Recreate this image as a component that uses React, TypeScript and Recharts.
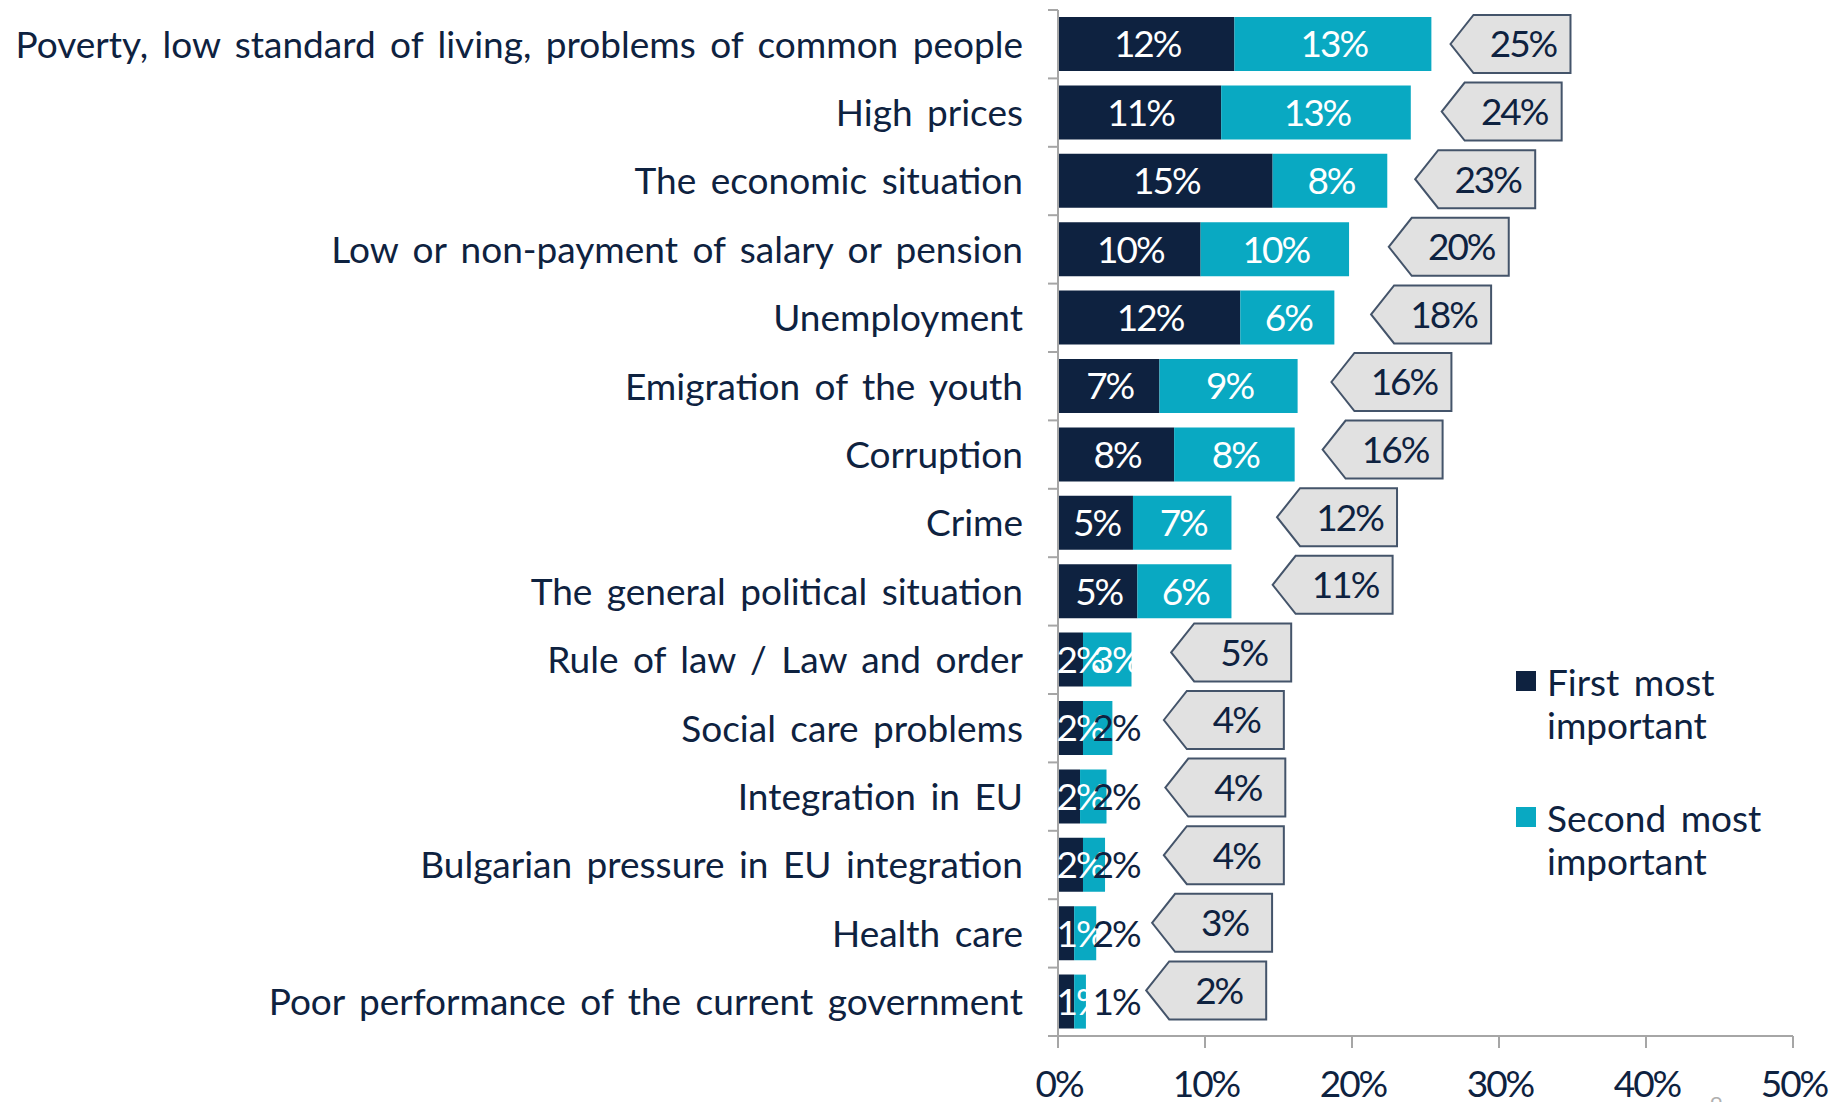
import React from 'react'
import { BarChart, Bar, XAxis, YAxis, LabelList, Legend } from 'recharts'

const CATEGORIES = [
  'Poverty, low standard of living, problems of common people',
  'High prices',
  'The economic situation',
  'Low or non-payment of salary or pension',
  'Unemployment',
  'Emigration of the youth',
  'Corruption',
  'Crime',
  'The general political situation',
  'Rule of law / Law and order',
  'Social care problems',
  'Integration in EU',
  'Bulgarian pressure in EU integration',
  'Health care',
  'Poor performance of the current government',
]

// first / second most important, in %
const FIRST = [12.0, 11.1, 14.6, 9.7, 12.4, 6.9, 7.9, 5.1, 5.4, 1.7, 1.7, 1.5, 1.7, 1.1, 1.1]
const SECOND = [13.4, 12.9, 7.8, 10.1, 6.4, 9.4, 8.2, 6.7, 6.4, 3.3, 2.0, 1.8, 1.5, 1.5, 0.8]
const TOTALS = [25, 24, 23, 20, 18, 16, 16, 12, 11, 5, 4, 4, 4, 3, 2]
// where the tip of each total callout sits on the % axis
const CALLOUT_AT = [26.7, 26.1, 24.3, 22.5, 21.3, 18.6, 18.0, 14.9, 14.6, 7.7, 7.2, 7.3, 7.2, 6.4, 6.0]
const X_TICKS = [0, 10, 20, 30, 40, 50]

const NAVY = '#0e2240'
const TEAL = '#09a9c2'
const GREY = '#a6a6a6'
const BOX_FILL = '#e1e1e1'
const BOX_STROKE = '#44546a'
const FONT = 'Lato, "Open Sans", sans-serif'
const FS = 37
const NUM_SPACING = -2

const W = 1831
const H = 1102
const PLOT_LEFT = 1058
const PLOT_TOP = 10
const PLOT_BOTTOM = 1036
const BAND = (PLOT_BOTTOM - PLOT_TOP) / CATEGORIES.length

const rows = CATEGORIES.map((name, i) => ({
  name,
  first: FIRST[i],
  second: SECOND[i],
  gap: CALLOUT_AT[i] - FIRST[i] - SECOND[i],
  total: TOTALS[i],
}))

function CategoryTick({ x, y, payload, index }: any) {
  const last = index === CATEGORIES.length - 1
  return (
    <g>
      <line x1={x - 10} x2={x} y1={y - BAND / 2} y2={y - BAND / 2} stroke={GREY} strokeWidth={2} />
      {last && <line x1={x - 10} x2={x} y1={y + BAND / 2} y2={y + BAND / 2} stroke={GREY} strokeWidth={2} />}
      <text
        x={x - 35}
        y={y + FS * 0.36}
        textAnchor="end"
        fill={NAVY}
        fontSize={FS}
        fontFamily={FONT}
        style={{ wordSpacing: 5 }}
      >
        {payload.value}
      </text>
    </g>
  )
}

function NumText({ x, y, color, children }: any) {
  return (
    <text
      x={x - NUM_SPACING / 2}
      y={y}
      textAnchor="middle"
      fill={color}
      fontSize={FS}
      fontFamily={FONT}
      letterSpacing={NUM_SPACING}
    >
      {children}
    </text>
  )
}

function segLabel(kind: 'first' | 'second') {
  return (p: any) => {
    const { x, y, width, height, value } = p
    const v = Math.round(value)
    let cx = x + width / 2
    let color = '#ffffff'
    if (kind === 'first') cx = Math.max(cx, PLOT_LEFT + 21)
    else {
      cx = Math.max(cx, PLOT_LEFT + 57)
      if (v <= 2) color = NAVY
    }
    return (
      <NumText x={cx} y={y + height / 2 + FS * 0.36} color={color}>
        {`${v}%`}
      </NumText>
    )
  }
}

function Callout(props: any) {
  const { x, y, width, height, payload, index } = props
  const tip = x + width
  const cy = y + height / 2 - index * 0.8
  const h = 58
  const point = 23
  const bw = 120
  const top = cy - h / 2
  const bot = cy + h / 2
  const d = `M${tip},${cy} L${tip + point},${top} L${tip + bw},${top} L${tip + bw},${bot} L${tip + point},${bot} Z`
  return (
    <g>
      <path d={d} fill={BOX_FILL} stroke={BOX_STROKE} strokeWidth={2} />
      <NumText x={tip + point + (bw - point) / 2} y={cy + FS * 0.36} color={NAVY}>
        {`${payload.total}%`}
      </NumText>
    </g>
  )
}

function XTick({ x, y, payload }: any) {
  return (
    <NumText x={x} y={y + FS * 0.72} color={NAVY}>
      {`${payload.value}%`}
    </NumText>
  )
}

function LegendBox() {
  const item = (color: string, l1: string, l2: string, mt: number) => (
    <div style={{ display: 'flex', marginTop: mt }}>
      <div style={{ width: 20, height: 20, background: color, marginTop: 11, marginRight: 11, flex: 'none' }} />
      <div style={{ fontSize: FS, lineHeight: '43px', color: NAVY, fontFamily: FONT, wordSpacing: 5 }}>
        <div>{l1}</div>
        <div>{l2}</div>
      </div>
    </div>
  )
  return (
    <div>
      {item(NAVY, 'First most', 'important', 0)}
      {item(TEAL, 'Second most', 'important', 50)}
    </div>
  )
}

export default function App() {
  return (
    <div style={{ position: 'relative', width: W, height: H, background: '#fff' }}>
      <style>{'body{margin:0;overflow:hidden}'}</style>
      <BarChart
        width={W}
        height={H}
        data={rows}
        layout="vertical"
        margin={{ top: PLOT_TOP, right: W - 1793, bottom: 0, left: 0 }}
        barSize={54}
      >
        <XAxis
          type="number"
          domain={[0, 50]}
          ticks={X_TICKS}
          interval={0}
          tick={<XTick />}
          tickSize={12}
          tickMargin={22}
          axisLine={{ stroke: GREY, strokeWidth: 2 }}
          tickLine={{ stroke: GREY, strokeWidth: 2 }}
          height={H - PLOT_BOTTOM}
        />
        <YAxis
          type="category"
          dataKey="name"
          width={PLOT_LEFT}
          interval={0}
          tick={<CategoryTick />}
          tickLine={false}
          tickSize={0}
          tickMargin={0}
          axisLine={{ stroke: GREY, strokeWidth: 2 }}
        />
        <Legend
          layout="vertical"
          align="center"
          verticalAlign="middle"
          content={<LegendBox />}
          wrapperStyle={{ left: 1516, top: 660, width: 300 }}
        />
        <Bar dataKey="first" stackId="a" fill={NAVY} isAnimationActive={false}>
          <LabelList dataKey="first" content={segLabel('first')} />
        </Bar>
        <Bar dataKey="second" stackId="a" fill={TEAL} isAnimationActive={false}>
          <LabelList dataKey="second" content={segLabel('second')} />
        </Bar>
        <Bar dataKey="gap" stackId="a" fill="none" isAnimationActive={false} shape={(p: any) => <Callout {...p} />} />
      </BarChart>
      <div style={{ position: 'absolute', left: 1710, top: 1090, fontSize: 22, color: '#b0b0b0', fontFamily: FONT }}>9</div>
    </div>
  )
}
